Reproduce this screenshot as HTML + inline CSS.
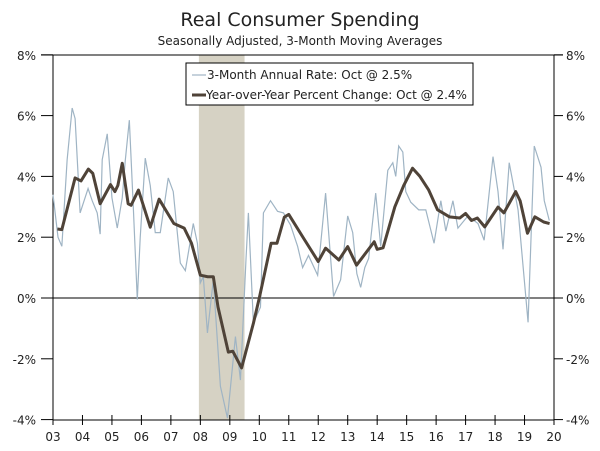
<!DOCTYPE html>
<html><head><meta charset="utf-8"><style>
body{margin:0;background:#fff;width:600px;height:446px;overflow:hidden}
svg text{font-family:"DejaVu Sans","Liberation Sans",sans-serif;fill:#222}
</style></head><body>
<svg id="chart" width="600" height="446" xmlns="http://www.w3.org/2000/svg">
<text x="300" y="26" text-anchor="middle" font-size="19">Real Consumer Spending</text>
<text x="300" y="45" text-anchor="middle" font-size="12">Seasonally Adjusted, 3-Month Moving Averages</text>
<g id="plot"></g>
</svg>
<script>
const yTicks=[8,6,4,2,0,-2,-4];
const yearLabels=["03","04","05","06","07","08","09","10","11","12","13","14","15","16","17","18","19","20"];
const recession=[2007.95,2009.5];
const rateT=[2003.0,2003.17,2003.3,2003.48,2003.65,2003.75,2003.92,2004.19,2004.33,2004.5,2004.6,2004.67,2004.84,2005.0,2005.18,2005.35,2005.45,2005.59,2005.72,2005.86,2005.96,2006.13,2006.3,2006.47,2006.64,2006.91,2007.08,2007.32,2007.49,2007.76,2007.9,2008.0,2008.1,2008.24,2008.44,2008.68,2008.92,2009.19,2009.36,2009.55,2009.63,2009.8,2010.04,2010.14,2010.38,2010.62,2010.82,2011.06,2011.3,2011.47,2011.67,2011.98,2012.25,2012.52,2012.76,2013.0,2013.17,2013.31,2013.44,2013.58,2013.71,2013.95,2014.12,2014.36,2014.53,2014.63,2014.73,2014.87,2014.97,2015.14,2015.41,2015.65,2015.93,2016.16,2016.33,2016.57,2016.74,2017.08,2017.42,2017.63,2017.93,2018.1,2018.27,2018.48,2018.78,2019.12,2019.33,2019.56,2019.67,2019.84];
const rateV=[3.4,2.0,1.7,4.55,6.25,5.9,2.8,3.6,3.2,2.8,2.1,4.55,5.4,3.3,2.3,3.3,4.5,5.85,3.1,-0.05,2.0,4.6,3.7,2.15,2.15,3.95,3.5,1.15,0.9,2.45,1.8,0.5,0.7,-1.15,0.6,-2.9,-3.95,-1.27,-2.7,1.3,2.8,-0.82,-0.3,2.8,3.2,2.85,2.8,2.4,1.7,1.0,1.4,0.75,3.45,0.05,0.6,2.7,2.15,0.8,0.35,1.0,1.3,3.45,1.7,4.2,4.45,4.0,5.0,4.8,3.5,3.15,2.9,2.9,1.8,3.2,2.2,3.2,2.3,2.7,2.45,1.9,4.65,3.5,1.6,4.45,2.9,-0.8,5.0,4.3,3.2,2.55];
const yoyT=[2003.15,2003.3,2003.75,2003.95,2004.2,2004.35,2004.6,2004.95,2005.1,2005.2,2005.35,2005.55,2005.65,2005.9,2006.3,2006.6,2007.1,2007.45,2007.7,2008.0,2008.25,2008.44,2008.6,2008.95,2009.1,2009.4,2009.8,2010.0,2010.4,2010.6,2010.85,2011.0,2011.5,2012.0,2012.25,2012.7,2013.0,2013.3,2013.9,2014.0,2014.2,2014.6,2014.9,2015.2,2015.45,2015.75,2016.05,2016.45,2016.8,2017.0,2017.2,2017.4,2017.65,2018.1,2018.3,2018.7,2018.85,2019.1,2019.35,2019.65,2019.85];
const yoyV=[2.27,2.25,3.95,3.85,4.24,4.1,3.1,3.73,3.5,3.7,4.43,3.1,3.05,3.55,2.33,3.25,2.45,2.3,1.8,0.75,0.7,0.7,-0.3,-1.78,-1.75,-2.3,-0.83,0,1.8,1.8,2.66,2.75,1.97,1.2,1.64,1.25,1.69,1.08,1.85,1.6,1.65,3.0,3.7,4.27,4.0,3.55,2.9,2.67,2.63,2.78,2.55,2.63,2.34,2.99,2.8,3.5,3.2,2.13,2.67,2.5,2.45];
const L=53,R=554,T=55,B=420;
const x=t=>L+(t-2003)*(R-L)/17;
const y=v=>298-v*30.4;
const g=document.getElementById('plot');
const NS="http://www.w3.org/2000/svg";
function mk(tag,attrs){const e=document.createElementNS(NS,tag);for(const k in attrs)e.setAttribute(k,attrs[k]);g.appendChild(e);return e;}
let e=mk('rect',{x:x(recession[0]),y:T,width:x(recession[1])-x(recession[0]),height:B-T,fill:'#d6d2c4'});


yTicks.forEach(v=>{
  const l=mk('line',{x1:L-12,x2:L,y1:y(v),y2:y(v),stroke:'#000'});
  
  
  const r=mk('line',{x1:R,x2:R+9,y1:y(v),y2:y(v),stroke:'#000'});
  
  
  const t1=mk('text',{x:36,y:y(v)+5,'text-anchor':'end','font-size':12});t1.textContent=v+'%';
  
  
  const t2=mk('text',{x:566,y:y(v)+5,'font-size':12});t2.textContent=v+'%';
  
  
});
e=mk('line',{x1:L-12,x2:R+9,y1:T,y2:T,stroke:'#000'});


e=mk('line',{x1:L,x2:R,y1:y(0),y2:y(0),stroke:'#000'});


e=mk('line',{x1:L,x2:L,y1:T,y2:B,stroke:'#000'});


e=mk('line',{x1:R,x2:R,y1:T,y2:B,stroke:'#000'});


e=mk('line',{x1:L,x2:R,y1:B,y2:B,stroke:'#000'});


yearLabels.forEach((lb,i)=>{
  const xx=x(2003+i);
  const tk=mk('line',{x1:xx,x2:xx,y1:B-5,y2:B+5,stroke:'#000'});
  
  
  const t=mk('text',{x:xx,y:441,'text-anchor':'middle','font-size':12});t.textContent=lb;
  
  
});
e=mk('polyline',{points:rateT.map((t,i)=>x(t)+','+y(rateV[i])).join(' '),fill:'none',stroke:'#9fb4c4','stroke-width':1.2});


e=mk('polyline',{points:yoyT.map((t,i)=>x(t)+','+y(yoyV[i])).join(' '),fill:'none',stroke:'#4f4338','stroke-width':3,'stroke-linejoin':'round'});


e=mk('rect',{x:186,y:63,width:287,height:42,fill:'#fff',stroke:'#000','stroke-width':1});


e=mk('line',{x1:192,x2:206,y1:75,y2:75,stroke:'#9fb4c4','stroke-width':1.2});


e=mk('text',{x:207,y:79,'font-size':12});e.textContent='3-Month Annual Rate: Oct @ 2.5%';


e=mk('line',{x1:192,x2:206,y1:95,y2:95,stroke:'#4f4338','stroke-width':3});


e=mk('text',{x:206,y:99,'font-size':12});e.textContent='Year-over-Year Percent Change: Oct @ 2.4%';


</script>
</body></html>
